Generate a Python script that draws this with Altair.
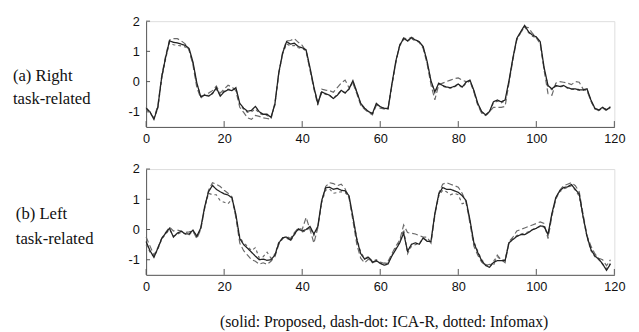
import altair as alt
import pandas as pd

t = list(range(120))
series_names = ["Proposed", "ICA-R", "Infomax"]
x_ticks = [0, 20, 40, 60, 80, 100, 120]
y_ticks = [-1, 0, 1, 2]
labels_a = ["(a) Right", "task-related"]
labels_b = ["(b) Left", "task-related"]
caption = ["(solid: Proposed, dash-dot: ICA-R, dotted: Infomax)"]

a_proposed = [
    -0.88, -1.0, -1.25, -0.85, 0.15, 0.8, 1.35, 1.3, 1.28, 1.24,
    1.2, 1.1, 0.65, -0.05, -0.5, -0.45, -0.48, -0.4, -0.2, -0.48,
    -0.34, -0.27, -0.3, -0.2, -0.72, -0.88, -0.98, -0.95, -0.82, -1.0,
    -1.08, -1.08, -1.18, -0.75, 0.3, 0.95, 1.32, 1.24, 1.27, 1.16,
    1.12, 1.05, 0.46, -0.18, -0.72, -0.34, -0.4, -0.45, -0.56, -0.45,
    -0.29, -0.38, -0.24, 0.03, -0.34, -0.72, -0.88, -0.99, -1.06, -0.72,
    -0.83, -0.88, -0.9, -0.07, 0.68, 1.2, 1.43, 1.35, 1.45, 1.38,
    1.32, 1.16, 0.68, 0.03, -0.34, -0.05, -0.13, -0.18, -0.2, -0.16,
    -0.08, -0.18, -0.02, 0.05, -0.29, -0.72, -0.99, -1.1, -0.99, -0.67,
    -0.61, -0.67, -0.61, 0.03, 0.78, 1.43, 1.65, 1.86, 1.65, 1.54,
    1.48, 1.32, 0.46, -0.13, -0.24, -0.13, -0.16, -0.13, -0.2, -0.24,
    -0.24, -0.27, -0.27, -0.24, -0.61, -0.88, -0.94, -0.85, -0.94, -0.83,
]
a_icar = [
    -0.85, -1.05, -1.2, -0.8, 0.2, 0.85, 1.38, 1.42, 1.42, 1.35,
    1.25, 1.05, 0.55, -0.2, -0.55, -0.42, -0.38, -0.3, -0.15, -0.38,
    -0.25, -0.12, -0.18, -0.3, -0.85, -1.02, -1.2, -1.25, -1.12, -1.15,
    -1.2, -1.22, -1.25, -0.7, 0.25, 0.98, 1.35, 1.36, 1.42, 1.3,
    1.2, 1.0, 0.38, -0.25, -0.78, -0.25, -0.28, -0.3, -0.35, -0.2,
    -0.05, 0.05, -0.2, -0.05, -0.4, -0.78, -0.92, -1.02, -1.1, -0.78,
    -0.88, -0.9, -0.92, -0.12, 0.62, 1.22, 1.45, 1.4, 1.47, 1.4,
    1.3, 1.1, 0.6, -0.1, -0.6, -0.1, -0.05, 0.0, 0.05, 0.1,
    0.12, 0.05, 0.0, 0.02, -0.35, -0.78, -1.05, -1.12, -1.0, -0.85,
    -0.85, -0.85, -0.82, -0.05, 0.72, 1.38, 1.62, 1.82, 1.78, 1.6,
    1.45, 1.25, 0.38, -0.4, -0.45, -0.05, 0.0, -0.02, -0.05, -0.1,
    0.0, -0.02, -0.25, -0.3, -0.65, -0.9, -0.96, -0.88, -0.92, -0.85,
]
a_infomax = [
    -0.9, -1.02, -1.22, -0.88, 0.1, 0.75, 1.3, 1.22, 1.2, 1.18,
    1.15, 1.05, 0.6, -0.08, -0.48, -0.47, -0.45, -0.38, -0.25, -0.45,
    -0.3, -0.25, -0.28, -0.22, -0.75, -0.92, -1.02, -1.0, -0.9, -1.05,
    -1.1, -1.12, -1.2, -0.78, 0.28, 0.92, 1.25, 1.18, 1.2, 1.12,
    1.1, 1.02, 0.42, -0.2, -0.7, -0.36, -0.42, -0.47, -0.55, -0.43,
    -0.3, -0.36, -0.26, 0.0, -0.36, -0.75, -0.9, -1.0, -1.05, -0.75,
    -0.85, -0.9, -0.88, -0.1, 0.65, 1.18, 1.4, 1.33, 1.42, 1.35,
    1.3, 1.14, 0.65, 0.0, -0.38, -0.08, -0.15, -0.2, -0.22, -0.18,
    -0.1, -0.2, -0.05, 0.02, -0.32, -0.75, -1.02, -1.12, -1.02, -0.7,
    -0.65, -0.7, -0.64, 0.0, 0.75, 1.4, 1.62, 1.82, 1.62, 1.5,
    1.45, 1.3, 0.42, -0.16, -0.27, -0.15, -0.18, -0.15, -0.22, -0.26,
    -0.26, -0.29, -0.29, -0.26, -0.64, -0.9, -0.96, -0.88, -0.96, -0.86,
]

b_proposed = [
    -0.4, -0.7, -0.92, -0.62, -0.3, -0.12, 0.04, -0.25, -0.12, -0.06,
    -0.14, -0.15, -0.02, -0.22, 0.05, 0.75, 1.25, 1.46, 1.33, 1.25,
    1.18, 1.14, 1.05, 0.5, -0.3, -0.5, -0.62, -0.75, -0.88, -1.0,
    -0.98, -1.02, -1.0, -0.85, -0.45, -0.27, -0.25, -0.35, -0.15, 0.02,
    -0.05, 0.0, 0.1, -0.15, 0.1, 0.96, 1.38, 1.4, 1.33, 1.36,
    1.3, 1.28, 1.12, 0.42, -0.33, -0.8, -0.98, -0.92, -1.08, -1.03,
    -1.12, -1.18, -1.14, -0.87, -0.66, -0.44, -0.12, -0.72, -0.49, -0.44,
    -0.49, -0.28, -0.39, -0.39, 0.53, 1.17, 1.39, 1.33, 1.33, 1.28,
    1.23, 1.12, 0.96, 0.31, -0.44, -0.76, -1.03, -1.19, -1.25, -1.09,
    -1.03, -1.03, -1.03, -0.44, -0.33, -0.23, -0.17, -0.17, -0.1, -0.01,
    0.04, 0.12, 0.1, -0.17, 0.53, 1.06, 1.28, 1.39, 1.41, 1.49,
    1.33, 1.17, 0.42, -0.23, -0.66, -0.87, -0.98, -1.14, -1.35, -1.14,
]
b_icar = [
    -0.25, -0.55, -0.85, -0.6, -0.28, -0.1, 0.08, -0.05, -0.02, -0.05,
    -0.1, -0.08, -0.05, -0.3, 0.0, 0.7, 1.3, 1.55, 1.5, 1.42,
    1.3, 1.2, 1.08, 0.4, -0.45, -0.7, -0.85, -1.0, -1.05, -1.15,
    -1.1, -1.15, -1.05, -0.9, -0.5, -0.3, -0.22, -0.3, -0.1, 0.05,
    0.0, 0.4, 0.0, -0.45, 0.05, 0.92, 1.42, 1.55, 1.52, 1.45,
    1.5, 1.35, 1.05, 0.3, -0.5, -0.95, -1.1, -0.98, -1.1, -1.05,
    -1.08, -1.12, -1.05, -0.8, -0.55, -0.35, 0.15, -0.1, -0.12, -0.15,
    -0.2, -0.25, -0.25, -0.45, 0.45, 1.2, 1.5, 1.55, 1.5, 1.45,
    1.4, 1.2, 0.9, 0.2, -0.55, -0.85, -1.08, -1.2, -1.15, -1.2,
    -0.85, -1.0, -1.1, -0.4, -0.25, -0.05, 0.0, 0.05, 0.1, 0.15,
    0.2, 0.25, 0.2, -0.3, 0.45, 1.0, 1.3, 1.45, 1.5, 1.55,
    1.45, 1.25, 0.5, -0.2, -0.55, -0.8, -0.95, -1.0, -1.2, -1.0,
]
b_infomax = [
    -0.5, -0.75, -0.9, -0.65, -0.32, -0.15, 0.0, -0.22, -0.15, -0.1,
    -0.15, -0.18, -0.05, -0.25, 0.0, 0.7, 1.2, 1.15, 1.15, 0.95,
    0.9, 0.85, 1.0, 0.45, -0.25, -0.45, -0.55, -0.7, -0.6, -0.95,
    -0.9, -0.75, -0.95, -0.82, -0.42, -0.3, -0.28, -0.38, -0.18, 0.0,
    -0.08, -0.05, 0.08, -0.2, 0.05, 0.9, 1.3, 1.35, 1.2, 1.22,
    1.25, 1.22, 1.08, 0.38, -0.3, -0.75, -0.95, -0.9, -1.05, -1.0,
    -1.1, -1.15, -1.1, -0.85, -0.62, -0.4, 0.0, -0.8, -0.55, -0.5,
    -0.45, -0.3, -0.35, -0.42, 0.5, 1.1, 1.3, 1.25, 1.15, 1.2,
    1.15, 0.85, 0.9, 0.28, -0.4, -0.72, -1.0, -1.15, -1.22, -1.05,
    -0.9, -1.0, -1.0, -0.4, -0.3, -0.2, -0.15, -0.12, -0.08, 0.0,
    0.05, 0.1, 0.08, -0.15, 0.5, 1.02, 1.25, 1.35, 1.38, 1.45,
    1.3, 1.1, 0.4, -0.25, -0.7, -0.9, -1.0, -1.15, -1.3, -1.12,
]

W, H = 478, 108
AXIS_COLOR = "#555555"

xscale = alt.Scale(domain=[0, 120], nice=False, zero=False)
yscale = alt.Scale(domain=[-1.5, 2], nice=False, zero=False)
xaxis = alt.Axis(values=x_ticks, ticks=False, grid=False, title=None, labelPadding=6,
                 labelFont="Liberation Sans", labelFontSize=13, labelColor="#111111",
                 domainColor=AXIS_COLOR, labelExpr="'' + datum.value", labelFlush=False,
                 labelOverlap=False)
yaxis = alt.Axis(values=y_ticks, ticks=False, grid=False, title=None, labelPadding=7,
                 labelFont="Liberation Sans", labelFontSize=13, labelColor="#111111",
                 domainColor=AXIS_COLOR, labelExpr="'' + datum.value", labelOverlap=False,
                 labelFlush=False, labelBound=False)

styles = {
    "Proposed": dict(color="#222222", strokeDash=[1, 0], strokeWidth=1.3),
    "ICA-R": dict(color="#6a6a6a", strokeDash=[6, 3], strokeWidth=1.2),
    "Infomax": dict(color="#6a6a6a", strokeDash=[3, 3], strokeWidth=1.2),
}


def panel(series):
    layers = []
    for name in ["Infomax", "ICA-R", "Proposed"]:
        df = pd.DataFrame({"t": t, "v": series[name]})
        layers.append(
            alt.Chart(df).mark_line(**styles[name]).encode(
                x=alt.X("t:Q", scale=xscale, axis=xaxis),
                y=alt.Y("v:Q", scale=yscale, axis=yaxis),
            )
        )
    # inward ticks
    layers.append(
        alt.Chart(pd.DataFrame({"t": x_ticks})).mark_rule(color=AXIS_COLOR, strokeWidth=1).encode(
            x=alt.X("t:Q", scale=xscale, axis=xaxis), y=alt.value(H), y2=alt.value(H - 6)
        )
    )
    layers.append(
        alt.Chart(pd.DataFrame({"v": y_ticks})).mark_rule(color=AXIS_COLOR, strokeWidth=1).encode(
            y=alt.Y("v:Q", scale=yscale, axis=yaxis), x=alt.value(0), x2=alt.value(4)
        )
    )
    return layers


def text_layer(txt, x, y, align="left", size=17):
    return alt.Chart(pd.DataFrame({"txt": [txt]})).mark_text(
        align=align, baseline="middle", font="Liberation Serif", fontSize=size, color="#111111"
    ).encode(text="txt:N", x=alt.value(x), y=alt.value(y))


top_layers = panel({"Proposed": a_proposed, "ICA-R": a_icar, "Infomax": a_infomax})
top_layers += [text_layer(labels_a[0], -136, 56), text_layer(labels_a[1], -136, 80)]
top = alt.layer(*top_layers).properties(width=W, height=H)

bot_layers = panel({"Proposed": b_proposed, "ICA-R": b_icar, "Infomax": b_infomax})
bot_layers += [text_layer(labels_b[0], -133, 46), text_layer(labels_b[1], -133, 71)]
bot_layers += [text_layer(caption[0], 243, 156, align="center", size=16)]
bottom = alt.layer(*bot_layers).properties(width=W, height=H)

chart = alt.vconcat(top, bottom, spacing=43, bounds="flush").properties(
    padding={"left": 4, "top": 3, "right": 5, "bottom": 2}
).configure_view(stroke=None).configure(background="white")

chart.save("out.html", embed_options={"renderer": "svg", "actions": False})
